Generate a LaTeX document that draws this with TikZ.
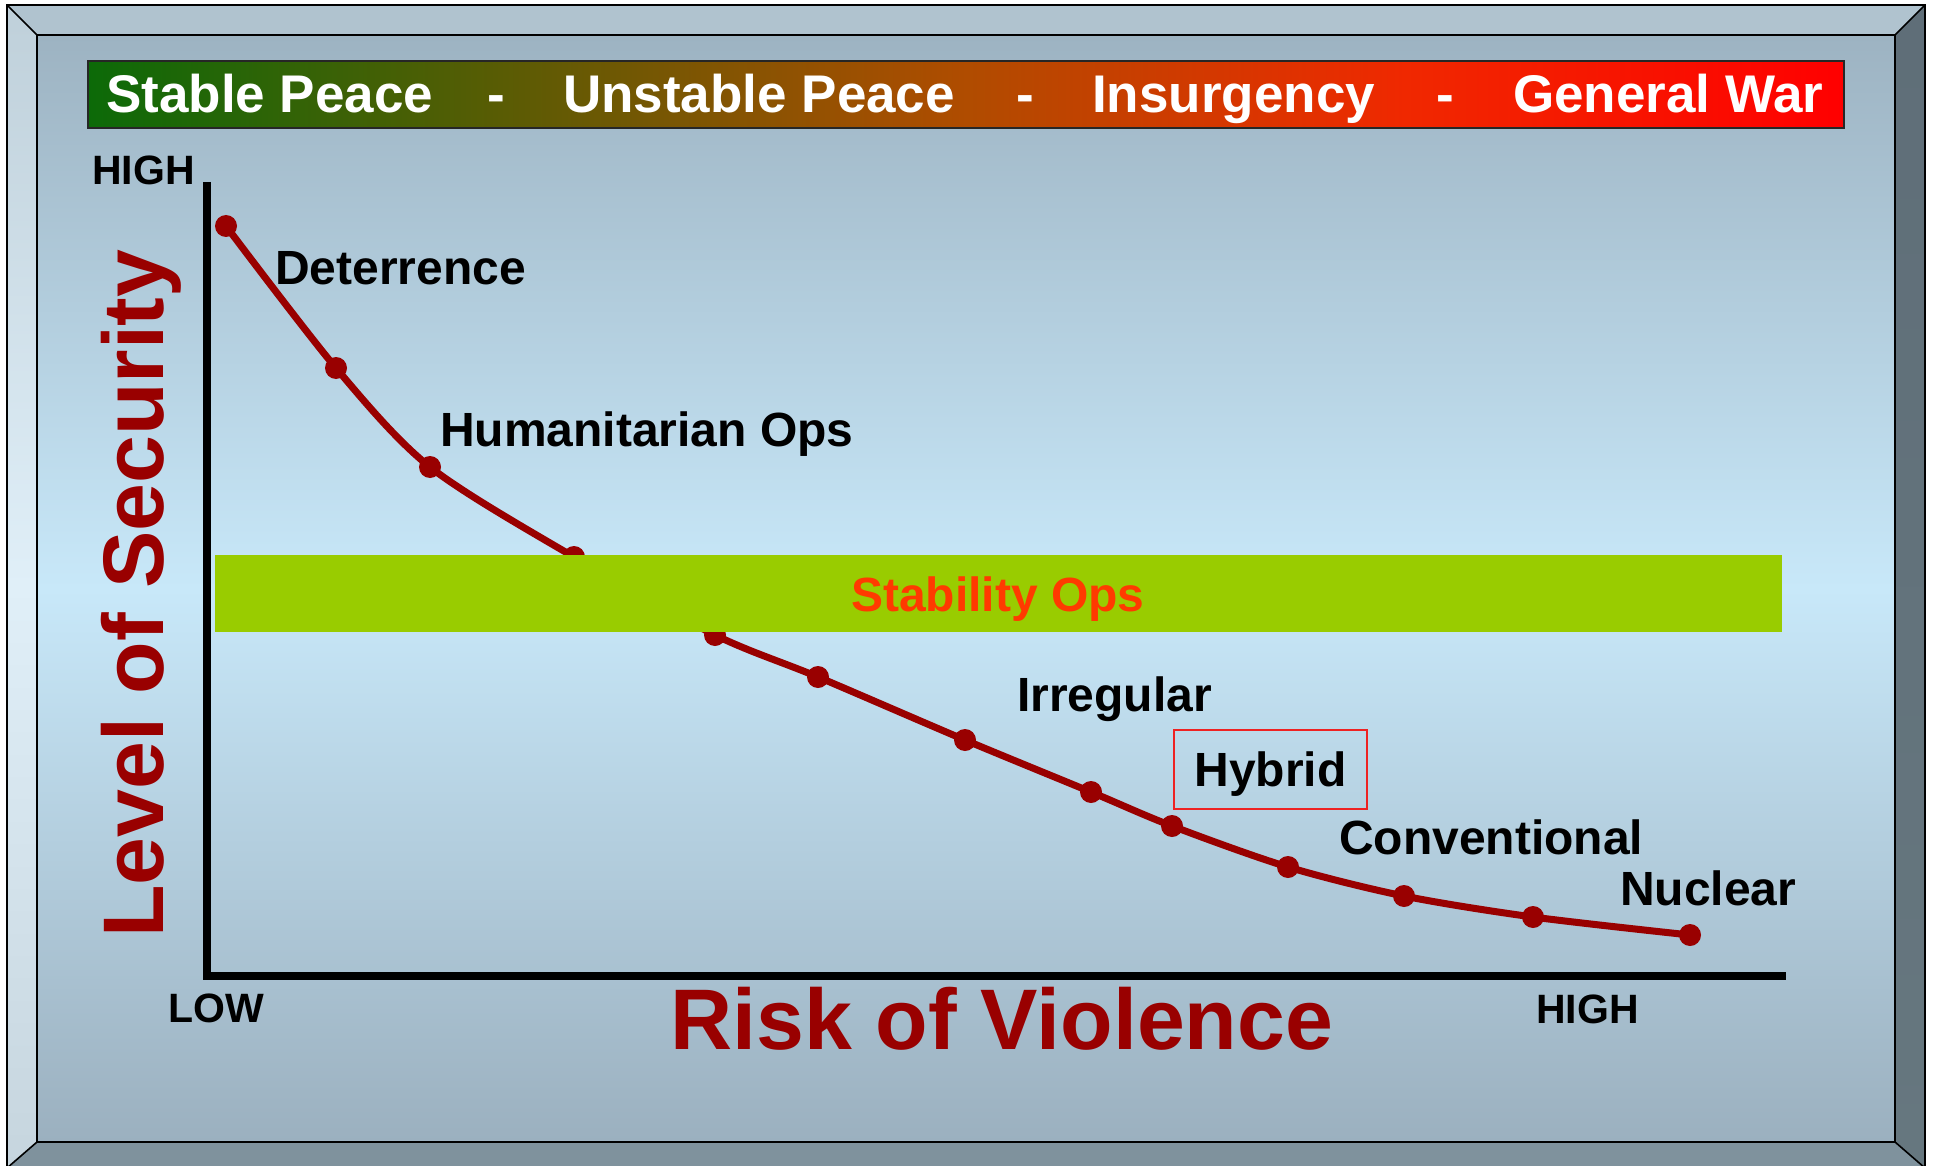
\documentclass[tikz,border=0pt]{standalone}
\usepackage{fontspec}
\setmainfont{Liberation Sans}
\definecolor{darkred}{HTML}{990000}
\definecolor{bgTop}{HTML}{9DB3C2}
\definecolor{bgMid}{HTML}{C8E8F9}
\definecolor{bgBot}{HTML}{9BB0BF}
\definecolor{bevT}{HTML}{B0C3CF}
\definecolor{bevL1}{HTML}{BFD0DA}
\definecolor{bevL2}{HTML}{E0EFF8}
\definecolor{bevL3}{HTML}{C6D5DE}
\definecolor{bevR1}{HTML}{5F6E78}
\definecolor{bevR2}{HTML}{66777F}
\definecolor{bevB}{HTML}{7F929D}
\definecolor{barG}{HTML}{0C6A08}
\definecolor{barM}{HTML}{B04C00}
\definecolor{barMR}{HTML}{F02800}
\definecolor{barR}{HTML}{FF0000}
\definecolor{bandG}{HTML}{99CC00}
\definecolor{stabT}{HTML}{FF3A00}
\definecolor{hybR}{HTML}{EE2222}
\pgfdeclarehorizontalshading{warbar}{100bp}{color(0bp)=(barG); color(25bp)=(barG); color(50bp)=(barM); color(62.5bp)=(barMR); color(75bp)=(barR); color(100bp)=(barR)}
\newcommand\myfs[1]{\fontsize{#1}{#1}\selectfont}
\begin{document}
\begin{tikzpicture}[x=1pt,y=-1pt,
  frameline/.style={draw=black, line width=1.6pt},
  bartext/.style={anchor=base west, inner sep=0pt, text=white, font=\bfseries\myfs{53}},
  bardash/.style={anchor=base, inner sep=0pt, text=white, font=\bfseries\myfs{53}},
  lbl/.style={anchor=base west, inner sep=0pt, text=black, font=\bfseries\myfs{48}},
  axislbl/.style={anchor=base west, inner sep=0pt, text=black, font=\bfseries\myfs{41}},
  bigtitle/.style={anchor=base west, inner sep=0pt, text=darkred, font=\bfseries\myfs{86}},
  curveline/.style={draw=darkred, line width=7pt},
  axisline/.style={draw=black, line width=7.5pt, line join=miter},
  hybbox/.style={draw=hybR, line width=2pt, minimum width=193pt, minimum height=79pt, inner sep=0pt, text height=34pt, text depth=0pt, font=\bfseries\myfs{48}}
]
\useasboundingbox (0,0) rectangle (1935,1166);
% panel and bevels
\shade[top color=bgTop, bottom color=bgBot, middle color=bgMid] (37,35) rectangle (1895,1142);
\fill[bevT] (7,5) -- (1925,5) -- (1895,35) -- (37,35) -- cycle;
\shade[top color=bevL1, bottom color=bevL3, middle color=bevL2] (7,5) -- (37,35) -- (37,1142) -- (7,1168) -- cycle;
\shade[top color=bevR1, bottom color=bevR2] (1925,5) -- (1925,1168) -- (1895,1142) -- (1895,35) -- cycle;
\fill[bevB] (7,1168) -- (37,1142) -- (1895,1142) -- (1925,1168) -- cycle;
\draw[frameline] (7,5) rectangle (1925,1168);
\draw[frameline] (37,35) rectangle (1895,1142);
\draw[frameline] (7,5) -- (37,35) (1925,5) -- (1895,35) (7,1168) -- (37,1142) (1925,1168) -- (1895,1142);
% top bar
\shadedraw[shading=warbar, draw=black!85, line width=2pt] (88,61) rectangle (1844,128);
\node[bartext] (sp) at (106,113) {Stable Peace};
\node[bardash] (d1) at (496,113) {-};
\node[bartext] (up) at (563,113) {Unstable Peace};
\node[bardash] (d2) at (1025,113) {-};
\node[bartext] (ins) at (1092,113) {Insurgency};
\node[bardash] (d3) at (1445,113) {-};
\node[bartext] (gw) at (1513,113) {General War};
% axes
\coordinate (ytop) at (207,182);
\coordinate (origin) at (207,976);
\coordinate (xend) at (1786,976);
\draw[axisline] (ytop) -- (origin) -- (xend);
\node[axislbl] (hightop) at (92,185) {HIGH};
\node[axislbl] (low) at (168,1022) {LOW};
\node[axislbl] (highbot) at (1536,1023) {HIGH};
\node[bigtitle, rotate=90] (yt) at (163,938) {Level of Security};
\node[bigtitle] (xt) at (670,1049) {Risk of Violence};
% curve
\coordinate (c1) at (226,226);
\coordinate (c2) at (336,368);
\coordinate (c3) at (430,467);
\coordinate (c4) at (574,557);
\coordinate (c5) at (715,635);
\coordinate (c6) at (818,677);
\coordinate (c7) at (965,740);
\coordinate (c8) at (1091,792);
\coordinate (c9) at (1172,826);
\coordinate (c10) at (1288,867);
\coordinate (c11) at (1404,896);
\coordinate (c12) at (1533,917);
\coordinate (c13) at (1690,935);
\draw[curveline] plot[smooth, tension=0.5] coordinates {(c1) (c2) (c3) (c4) (c5) (c6) (c7) (c8) (c9) (c10) (c11) (c12) (c13)};
\foreach \i in {1,...,13} \fill[darkred] (c\i) circle[radius=11pt];
% stability band
\fill[bandG] (215,555) rectangle (1782,632);
\node[anchor=base west, inner sep=0pt, text=stabT, font=\bfseries\myfs{48}] (stab) at (851,611) {Stability Ops};
% labels
\node[lbl] (det) at (275,285) {Deterrence};
\node[lbl] (hum) at (440,446) {Humanitarian Ops};
\node[lbl] (irr) at (1017,711) {Irregular};
\node[hybbox] (hyb) at (1270.5,769.5) {Hybrid};
\node[lbl] (conv) at (1339,854) {Conventional};
\node[lbl] (nuc) at (1620,905) {Nuclear};
\end{tikzpicture}
\end{document}
